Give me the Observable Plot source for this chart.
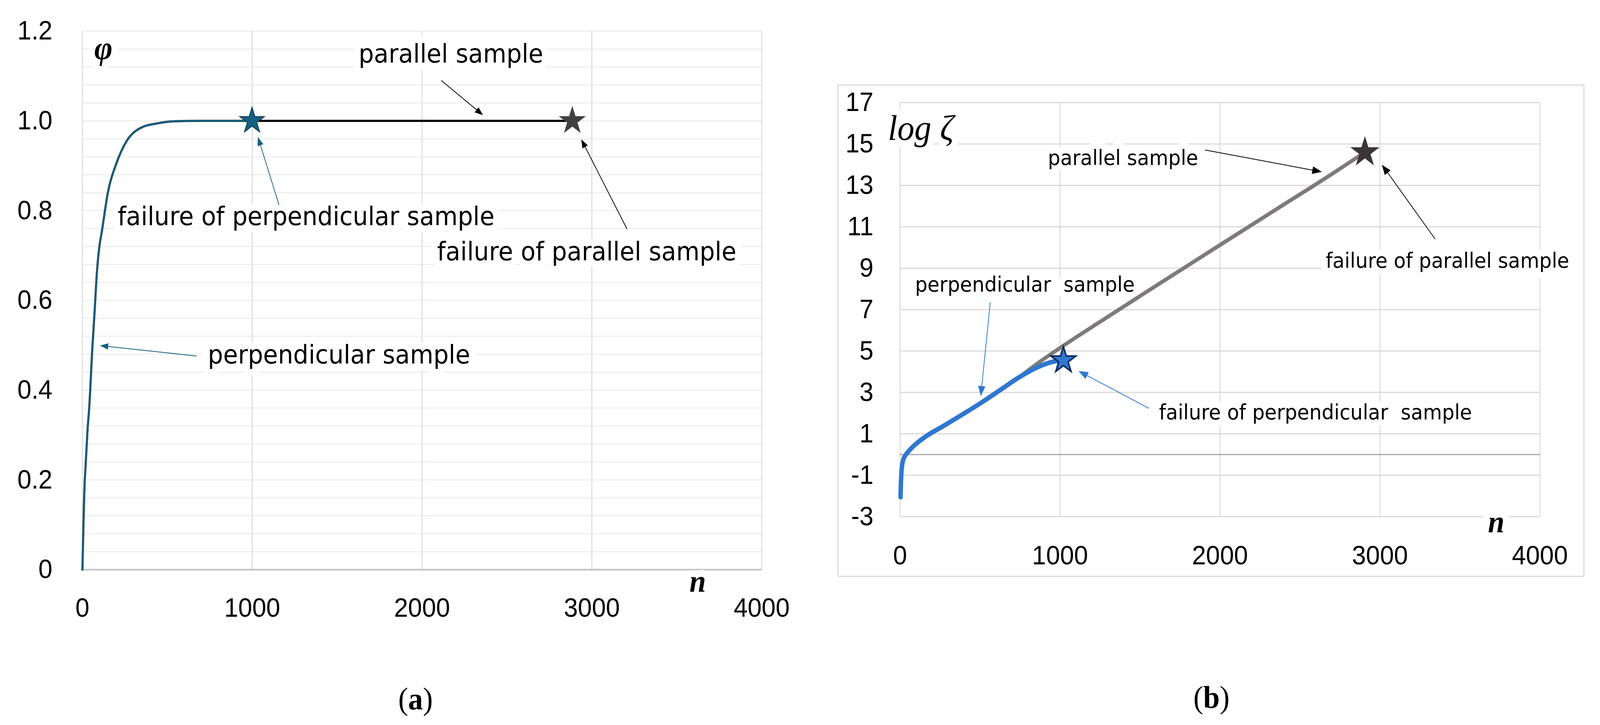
<!DOCTYPE html>
<html>
<head>
<meta charset="utf-8">
<script src="https://cdn.jsdelivr.net/npm/d3@7"></script>
<script src="https://cdn.jsdelivr.net/npm/@observablehq/plot@0.6"></script>
<style>
  html, body { margin: 0; padding: 0; background: #fff; overflow: hidden; }
  #page { position: relative; width: 4320px; height: 1855px; overflow: hidden; background: #fff; transform-origin: 0 0; }
  #panelA { position: absolute; left: 0; top: 0; }
  #boxB { position: absolute; left: 2261px; top: 216px; width: 2017px; height: 1260px;
          border: 3px solid #d9d9d9; box-sizing: border-box; }
  #panelB { position: absolute; left: -3px; top: -3px; }
  #panelA text, #panelB text { white-space: pre; }
  .cap { position: absolute; font-family: "Liberation Serif", "DejaVu Serif", serif; font-size: 80px;
         line-height: 80px; transform: translateX(-50%); color: #000; white-space: nowrap; }
</style>
</head>
<body>
<div id="page">
  <div id="panelA"></div>
  <div id="boxB"><div id="panelB"></div></div>
  <div class="cap" style="left:1122px; top:1748px">(<b>a</b>)</div>
  <div class="cap" style="left:3271px; top:1744px">(<b>b</b>)</div>
</div>
<script>
// ---------------- Panel (a): φ vs n ----------------
const xTicksA = [0, 1000, 2000, 3000, 4000];
const yTicksA = [0, 0.2, 0.4, 0.6, 0.8, 1.0, 1.2];
const yLabelsA = ["0", "0.2", "0.4", "0.6", "0.8", "1.0", "1.2"];

const perpNA   = [0, 5, 11, 20, 30, 40, 58, 71, 85, 100, 113, 150, 200, 259, 342, 451, 543, 700, 1000];
const perpPhiA = [0, 0.08, 0.17, 0.24, 0.31, 0.36, 0.49, 0.57, 0.66, 0.72, 0.75, 0.84, 0.905, 0.954, 0.984, 0.995, 0.999, 1.0, 1.0];
const paraNA   = [0, 5, 11, 20, 30, 40, 58, 71, 85, 100, 113, 150, 200, 259, 342, 451, 543, 700, 1000, 1500, 2000, 2500, 2885];
const paraPhiA = [0, 0.08, 0.17, 0.24, 0.31, 0.36, 0.49, 0.57, 0.66, 0.72, 0.75, 0.84, 0.905, 0.954, 0.984, 0.995, 0.999, 1.0, 1.0, 1.0, 1.0, 1.0, 1.0];

const starNA = [999, 2885];
const starPhiA = [1.0, 1.0];
const starFillA = ["#156082", "#404040"];
const starStrokeA = ["#0b3349", "#404040"];

const annTextA = ["parallel sample", "failure of perpendicular sample", "failure of parallel sample", "perpendicular sample"];
const annNA    = [2170, 1317, 2970, 1511];
const annPhiA  = [1.130, 0.768, 0.689, 0.459];

const arrFromNA = [2113, 3207, 1158, 673];
const arrFromVA = [1.090, 0.759, 0.8125, 0.476];
const arrToNA   = [2355, 2940, 1035, 109];
const arrToVA   = [1.014, 0.957, 0.962, 0.499];
const arrColorA = ["#000000", "#000000", "#156082", "#156082"];

const mathTextA = ["φ", "n"];
const mathNA    = [124, 3623];
const mathVA    = [1.1375, -0.0496];
const mathSizeA = [84, 80];

// ---------------- Panel (b): log ζ vs n ----------------
const xTicksB = [0, 1000, 2000, 3000, 4000];
const yTicksB = [-3, -1, 1, 3, 5, 7, 9, 11, 13, 15, 17];

const perpNB = [3, 5, 8, 12, 18, 30, 45, 83, 160, 276, 391, 507, 623, 738, 854, 954, 990, 1021];
const perpZB = [-2.06, -1.4, -0.92, -0.55, -0.30, -0.08, 0.08, 0.40, 0.87, 1.40, 1.94, 2.50, 3.10, 3.70, 4.20, 4.48, 4.53, 4.55];
const paraNB = [3, 5, 8, 12, 18, 30, 45, 83, 160, 276, 391, 507, 623, 738, 850, 1010, 1318, 1600, 2000, 2400, 2700, 2906];
const paraZB = [-2.06, -1.4, -0.92, -0.55, -0.30, -0.08, 0.08, 0.40, 0.87, 1.40, 1.94, 2.50, 3.10, 3.70, 4.35, 5.2, 6.75, 8.15, 10.12, 12.08, 13.55, 14.6];

const starNB = [1021, 2906];
const starZB = [4.55, 14.6];
const starFillB = ["#2f77d0", "#3a3536"];
const starStrokeB = ["#0c2a5e", "#3a3536"];

const annTextB = ["parallel sample", "failure of parallel sample", "perpendicular  sample", "failure of perpendicular  sample"];
const annNB    = [1394, 3422, 780, 2597];
const annZB    = [13.98, 9.03, 7.87, 1.706];

const arrFromNB = [1907, 3345, 564, 1556];
const arrFromZB = [14.71, 10.41, 7.36, 2.23];
const arrToNB   = [2631, 3016, 505, 1121];
const arrToZB   = [13.66, 13.96, 2.87, 4.01];
const arrColorB = ["#000000", "#000000", "#2f77d0", "#2f77d0"];

const mathTextB = ["log ζ", "n"];
const mathNB    = [129.5, 3727];
const mathZB    = [15.20, -3.755];
const mathSizeB = [92, 80];
const mathWeightB = ["normal", "bold"];

// ---------------- helpers ----------------
const sans = '"DejaVu Sans", Verdana, sans-serif';
const tickFont = '"Liberation Sans", Arial, Helvetica, sans-serif';
const serif = '"Liberation Serif", "DejaVu Serif", "Times New Roman", serif';

const rows = (xs, ys) => xs.map((n, i) => ({n, v: ys[i]}));
const arrows = (fn, fv, tn, tv, col) => fn.map((n, i) => ({x1: n, y1: fv[i], x2: tn[i], y2: tv[i], c: col[i]}));

let markerUid = 0;
function addArrowheads(svg, size) {
  const s = d3.select(svg);
  const defs = s.insert("defs", ":first-child");
  s.selectAll('g[aria-label="link"]').each(function() {
    const g = d3.select(this);
    const color = g.attr("stroke") || "#000";
    const id = "arrowhead" + (++markerUid);
    defs.append("marker")
      .attr("id", id)
      .attr("viewBox", "0 -5 10 10")
      .attr("refX", 9)
      .attr("refY", 0)
      .attr("markerUnits", "userSpaceOnUse")
      .attr("markerWidth", size)
      .attr("markerHeight", size)
      .attr("orient", "auto")
      .append("path")
      .attr("d", "M0,-3.8L10,0L0,3.8Z")
      .attr("fill", color);
    g.selectAll("path").attr("marker-end", `url(#${id})`);
  });
}

// ---------------- build panel (a) ----------------
const gridA = d3.range(1, 31).map(k => k * 0.04);
const perpA = rows(perpNA, perpPhiA);
const paraA = rows(paraNA, paraPhiA);
const starsA = starNA.map((n, i) => ({n, v: starPhiA[i], f: starFillA[i], s: starStrokeA[i]}));
const annA = annTextA.map((t, i) => ({t, n: annNA[i], v: annPhiA[i]}));
const mathA = mathTextA.map((t, i) => ({t, n: mathNA[i], v: mathVA[i], size: mathSizeA[i]}));
const arrA = arrows(arrFromNA, arrFromVA, arrToNA, arrToVA, arrColorA);

const chartA = Plot.plot({
  width: 2200,
  height: 1640,
  marginLeft: 222, marginRight: 144, marginTop: 79, marginBottom: 183,
  style: {fontFamily: tickFont, fontSize: "68px", color: "#000", background: "transparent", overflow: "visible"},
  x: {domain: [0, 4000], ticks: xTicksA, tickSize: 0, tickPadding: 72, tickFormat: d => String(d), label: null},
  y: {domain: [0, 1.2], ticks: yTicksA, tickSize: 0, tickPadding: 81,
      tickFormat: d => yLabelsA[yTicksA.indexOf(d)], label: null},
  marks: [
    Plot.ruleY(gridA, {stroke: "#ebebeb", strokeWidth: 2.5}),
    Plot.ruleX(xTicksA, {stroke: "#d9d9d9", strokeWidth: 2.5}),
    Plot.ruleY([0], {stroke: "#bfbfbf", strokeWidth: 4}),
    Plot.text(annA, {x: "n", y: "v", text: "t", fontSize: 65, fontFamily: sans, lineAnchor: "bottom",
                     fill: "white", stroke: "white", strokeWidth: 36, strokeLinejoin: "round"}),
    ...mathA.map(d => Plot.text([d], {x: "n", y: "v", text: "t", fontSize: d.size, fontFamily: serif, fontStyle: "italic", fontWeight: "bold",
                      lineAnchor: "bottom", fill: "white", stroke: "white", strokeWidth: 36, strokeLinejoin: "round"})),
    Plot.line(paraA, {x: "n", y: "v", stroke: "#000", strokeWidth: 5.5, curve: "monotone-x"}),
    Plot.line(perpA, {x: "n", y: "v", stroke: "#156082", strokeWidth: 4.5, curve: "monotone-x"}),
    Plot.link(arrA.filter(d => d.c === "#000000"), {x1: "x1", y1: "y1", x2: "x2", y2: "y2", stroke: "#000000", strokeWidth: 2}),
    Plot.link(arrA.filter(d => d.c !== "#000000"), {x1: "x1", y1: "y1", x2: "x2", y2: "y2", stroke: "#156082", strokeWidth: 2}),
    Plot.dot(starsA, {x: "n", y: "v", symbol: "star", r: 21, fill: d => d.f, stroke: d => d.s, strokeWidth: 2}),
    Plot.text(annA, {x: "n", y: "v", text: "t", fontSize: 65, fontFamily: sans, lineAnchor: "bottom", fill: "#000"}),
    ...mathA.map(d => Plot.text([d], {x: "n", y: "v", text: "t", fontSize: d.size, fontFamily: serif, fontStyle: "italic", fontWeight: "bold",
                      lineAnchor: "bottom", fill: "#000"}))
  ]
});
addArrowheads(chartA, 22);
document.getElementById("panelA").appendChild(chartA);

// ---------------- build panel (b) ----------------
const perpB = rows(perpNB, perpZB);
const paraB = rows(paraNB, paraZB);
const starsB = starNB.map((n, i) => ({n, v: starZB[i], f: starFillB[i], s: starStrokeB[i]}));
const annB = annTextB.map((t, i) => ({t, n: annNB[i], v: annZB[i]}));
const mathB = mathTextB.map((t, i) => ({t, n: mathNB[i], v: mathZB[i], size: mathSizeB[i], w: mathWeightB[i]}));
const arrB = arrows(arrFromNB, arrFromZB, arrToNB, arrToZB, arrColorB);

const chartB = Plot.plot({
  width: 2017,
  height: 1260,
  marginLeft: 169, marginRight: 118, marginTop: 46, marginBottom: 153,
  style: {fontFamily: tickFont, fontSize: "68px", color: "#000", background: "transparent", overflow: "visible"},
  x: {domain: [0, 4000], ticks: xTicksB, tickSize: 0, tickPadding: 74, tickFormat: d => String(d), label: null},
  y: {domain: [-3, 17], ticks: yTicksB, tickSize: 0, tickPadding: 72, tickFormat: d => String(d), label: null},
  marks: [
    Plot.ruleY(yTicksB, {stroke: "#d9d9d9", strokeWidth: 3}),
    Plot.ruleX(xTicksB, {stroke: "#d9d9d9", strokeWidth: 2.5}),
    Plot.ruleY([0], {stroke: "#a6a6a6", strokeWidth: 3}),
    Plot.text(annB, {x: "n", y: "v", text: "t", fontSize: 53, fontFamily: sans, lineAnchor: "bottom",
                     fill: "white", stroke: "white", strokeWidth: 34, strokeLinejoin: "round"}),
    ...mathB.map(d => Plot.text([d], {x: "n", y: "v", text: "t", fontSize: d.size, fontFamily: serif, fontStyle: "italic",
                      fontWeight: d.w, lineAnchor: "bottom", fill: "white", stroke: "white", strokeWidth: 34, strokeLinejoin: "round"})),
    Plot.line(paraB, {x: "n", y: "v", stroke: "#7f7a7a", strokeWidth: 10, curve: "monotone-x"}),
    Plot.line(perpB, {x: "n", y: "v", stroke: "#2f77d0", strokeWidth: 12, curve: "monotone-x"}),
    Plot.link(arrB.filter(d => d.c === "#000000"), {x1: "x1", y1: "y1", x2: "x2", y2: "y2", stroke: "#000000", strokeWidth: 2}),
    Plot.link(arrB.filter(d => d.c !== "#000000"), {x1: "x1", y1: "y1", x2: "x2", y2: "y2", stroke: "#2f77d0", strokeWidth: 2}),
    Plot.dot(starsB, {x: "n", y: "v", symbol: "star", r: 21, fill: d => d.f, stroke: d => d.s, strokeWidth: 4}),
    Plot.text(annB, {x: "n", y: "v", text: "t", fontSize: 53, fontFamily: sans, lineAnchor: "bottom", fill: "#000"}),
    ...mathB.map(d => Plot.text([d], {x: "n", y: "v", text: "t", fontSize: d.size, fontFamily: serif, fontStyle: "italic",
                      fontWeight: d.w, lineAnchor: "bottom", fill: "#000"}))
  ]
});
addArrowheads(chartB, 26);
document.getElementById("panelB").appendChild(chartB);

// ---------------- fit the 4320×1855 figure into the actual viewport ----------------
const page = document.getElementById("page");
const sx = Math.min(1, window.innerWidth / 4320);
const sy = Math.min(1, window.innerHeight / 1855);
if (sx < 1 || sy < 1) page.style.transform = `scale(${sx}, ${sy})`;
</script>
</body>
</html>
